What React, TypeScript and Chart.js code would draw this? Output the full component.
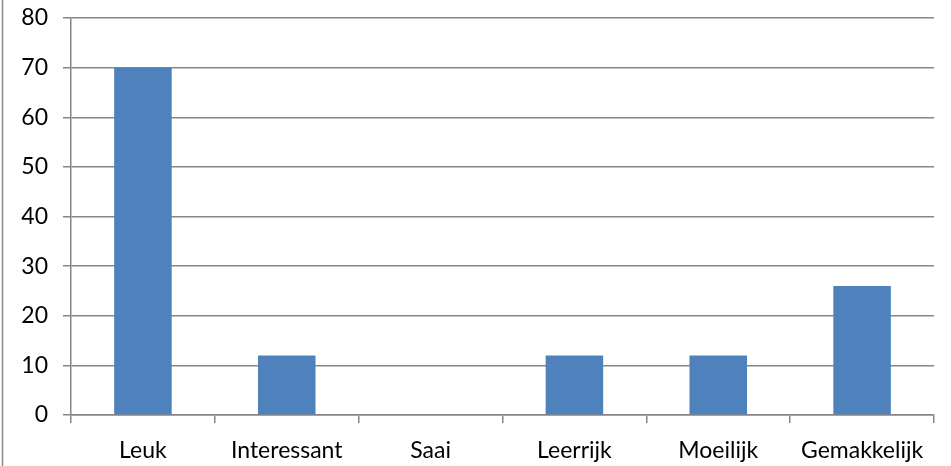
import React, { useEffect, useRef } from "react";
import { Chart, registerables } from "chart.js";

Chart.register(...registerables);

const categories = ["Leuk", "Interessant", "Saai", "Leerrijk", "Moeilijk", "Gemakkelijk"];
const values = [70, 12, 0, 12, 12, 26];

const frameLine = {
  id: "frameLine",
  afterDraw(chart: any) {
    const ctx = chart.ctx;
    ctx.save();
    ctx.strokeStyle = "#8c8c8c";
    ctx.lineWidth = 1.5;
    ctx.beginPath();
    ctx.moveTo(2.5, 0);
    ctx.lineTo(2.5, chart.height);
    ctx.stroke();
    ctx.restore();
  },
};

export default function App() {
  const ref = useRef<HTMLCanvasElement>(null);
  useEffect(() => {
    const font = { family: "Lato, 'Open Sans', sans-serif", size: 23 };
    const chart = new Chart(ref.current!, {
      type: "bar",
      data: {
        labels: categories,
        datasets: [
          {
            data: values,
            backgroundColor: "#4F81BD",
            barPercentage: 1,
            categoryPercentage: 0.4,
          },
        ],
      },
      options: {
        responsive: false,
        animation: false,
        layout: { padding: { top: 18, right: 17, left: 0, bottom: 0 } },
        plugins: { legend: { display: false }, tooltip: { enabled: false } },
        scales: {
          x: {
            offset: true,
            grid: {
              offset: true,
              drawOnChartArea: false,
              drawTicks: true,
              tickLength: 8,
              color: "#868686",
              lineWidth: 1.5,
            },
            border: { color: "#868686", width: 1.5 },
            ticks: { color: "#000", font, padding: 14, maxRotation: 0, autoSkip: false },
            afterFit: (s: any) => {
              s.height = 51;
              s.paddingLeft = 0;
              s.paddingRight = 0;
            },
          },
          y: {
            min: 0,
            max: 80,
            ticks: { stepSize: 10, color: "#000", font, padding: 15 },
            grid: { color: "#868686", lineWidth: 1.5, tickLength: 8 },
            border: { color: "#868686", width: 1.5 },
            afterFit: (s: any) => {
              s.width = 71;
              s.paddingTop = 0;
              s.paddingBottom = 0;
            },
          },
        },
      },
      plugins: [frameLine],
    });
    return () => chart.destroy();
  }, []);
  return (
    <div style={{ position: "fixed", left: 0, top: 0, width: 951, height: 466, background: "#fff" }}>
      <canvas ref={ref} width={951} height={466} style={{ display: "block" }} />
    </div>
  );
}
